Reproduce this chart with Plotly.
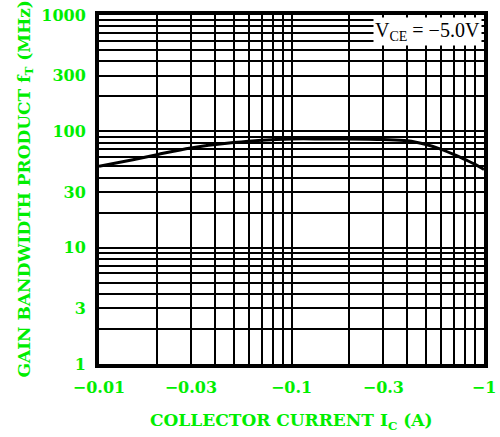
"""Gain bandwidth product vs collector current (log-log)."""

import plotly.graph_objects as go

GREEN = "#00ee00"
BLACK = "#000000"

# Collector current magnitude (A) and fT (MHz)
ic_mag = [0.01, 0.015, 0.02, 0.03, 0.05, 0.07, 0.1, 0.15, 0.2, 0.3, 0.4, 0.5, 0.6, 0.7, 0.8, 0.9, 1.0]
ft_mhz = [50, 57, 63, 72, 80, 84, 86, 86, 86, 85, 83, 77, 70, 63, 57, 52, 47]

x_labels = {0.01: "\u22120.01", 0.03: "\u22120.03", 0.1: "\u22120.1", 0.3: "\u22120.3", 1: "\u22121"}
y_labels = {1: "1", 3: "3", 10: "10", 30: "30", 100: "100", 300: "300", 1000: "1000"}

# every 1..9 step per decade so the full log grid is drawn
x_grid = [round(m * 10 ** e, 4) for e in (-2, -1) for m in range(1, 10)] + [1]
y_grid = [m * 10 ** e for e in (0, 1, 2) for m in range(1, 10)] + [1000]

fig = go.Figure(
    go.Scatter(
        x=ic_mag,
        y=ft_mhz,
        mode="lines",
        line={"color": BLACK, "width": 3, "shape": "spline"},
        showlegend=False,
        hoverinfo="skip",
    )
)

tick_font = {"family": "DejaVu Serif", "size": 16, "color": GREEN, "weight": "bold"}
axis_common = {
    "showgrid": True,
    "gridcolor": BLACK,
    "gridwidth": 2,
    "showline": True,
    "linecolor": BLACK,
    "linewidth": 4,
    "mirror": True,
    "ticks": "",
    "tickfont": tick_font,
    "zeroline": False,
    "automargin": False,
}

fig.update_xaxes(
    type="log",
    range=[-2, 0],
    tickmode="array",
    tickvals=x_grid,
    ticktext=[x_labels.get(v, "") for v in x_grid],
    ticklabelstandoff=6,
    **axis_common,
)
fig.update_yaxes(
    type="log",
    range=[0, 3],
    tickmode="array",
    tickvals=y_grid,
    ticktext=[y_labels.get(v, "") for v in y_grid],
    ticklabelstandoff=6,
    **axis_common,
)

title_font = {"family": "DejaVu Serif", "size": 17, "color": GREEN, "weight": "bold"}
fig.update_layout(
    width=500,
    height=437,
    margin={"l": 99, "r": 16, "t": 15, "b": 73},
    paper_bgcolor="white",
    plot_bgcolor="white",
    annotations=[
        {
            "text": "COLLECTOR CURRENT I<sub>C</sub> (A)",
            "xref": "paper",
            "yref": "paper",
            "x": 0.5,
            "y": -0.166,
            "yanchor": "middle",
            "showarrow": False,
            "font": title_font,
        },
        {
            "text": "GAIN BANDWIDTH PRODUCT f<sub>T</sub> (MHz)",
            "xref": "paper",
            "yref": "paper",
            "x": -0.192,
            "y": 0.5,
            "xanchor": "center",
            "textangle": -90,
            "showarrow": False,
            "font": title_font,
        },
        {
            "text": "V<sub>CE</sub> = \u22125.0V",
            "xref": "paper",
            "yref": "paper",
            "x": 0.995,
            "y": 0.995,
            "xanchor": "right",
            "yanchor": "top",
            "showarrow": False,
            "bgcolor": "white",
            "font": {"family": "Liberation Serif", "size": 20, "color": BLACK},
        },
    ],
)

# page body has a default margin that would shift the fixed-size figure
fig.write_html(
    "out.html",
    config={"displayModeBar": False},
    post_script="document.body.style.margin='0';",
)
